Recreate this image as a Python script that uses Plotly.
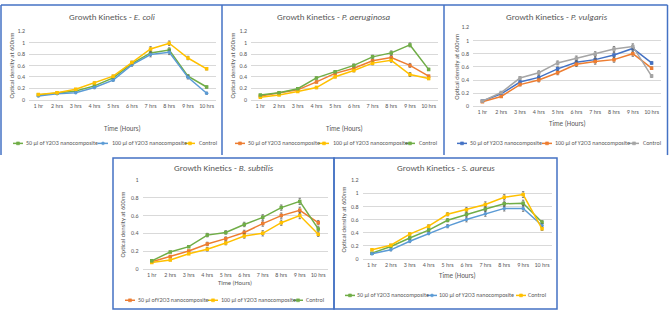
import plotly.graph_objects as go

W, H = 669, 315

hours = ["1 hr", "2 hrs", "3 hrs", "4 hrs", "5 hrs", "6 hrs", "7 hrs", "8 hrs", "9 hrs", "10 hrs"]
y_ticks_12 = [0, 0.2, 0.4, 0.6, 0.8, 1, 1.2]
y_ticks_10 = [0, 0.2, 0.4, 0.6, 0.8, 1]

name50 = "50 µl of Y2O3 nanocomposite"
name50b = "50 µl ofY2O3 nanocomposite"
name100 = "100 µl of Y2O3 nanocomposite"
nameC = "Control"

# E. coli
ecoli_50 = [0.08, 0.11, 0.15, 0.24, 0.38, 0.63, 0.82, 0.87, 0.41, 0.22]
ecoli_100 = [0.06, 0.10, 0.12, 0.21, 0.34, 0.61, 0.79, 0.83, 0.39, 0.11]
ecoli_ctrl = [0.09, 0.12, 0.18, 0.29, 0.41, 0.65, 0.89, 0.99, 0.73, 0.54]
ecoli_err = [0.01, 0.01, 0.015, 0.02, 0.02, 0.025, 0.04, 0.04, 0.03, 0.02]

# P. aeruginosa
paer_50 = [0.06, 0.11, 0.17, 0.31, 0.46, 0.55, 0.68, 0.74, 0.60, 0.41]
paer_100 = [0.04, 0.08, 0.14, 0.21, 0.40, 0.51, 0.64, 0.69, 0.44, 0.37]
paer_ctrl = [0.08, 0.12, 0.19, 0.38, 0.49, 0.60, 0.75, 0.82, 0.96, 0.53]
paer_err = [0.01, 0.01, 0.015, 0.02, 0.02, 0.025, 0.03, 0.035, 0.035, 0.02]

# P. vulgaris
pvul_50 = [0.08, 0.19, 0.37, 0.44, 0.57, 0.67, 0.71, 0.78, 0.88, 0.66]
pvul_100 = [0.07, 0.15, 0.33, 0.40, 0.51, 0.64, 0.68, 0.71, 0.80, 0.58]
pvul_ctrl = [0.08, 0.21, 0.43, 0.51, 0.66, 0.73, 0.79, 0.87, 0.91, 0.46]
pvul_err = [0.01, 0.015, 0.02, 0.03, 0.03, 0.035, 0.04, 0.04, 0.04, 0.02]

# B. subtilis
bsub_50 = [0.08, 0.14, 0.20, 0.28, 0.34, 0.41, 0.51, 0.60, 0.66, 0.52]
bsub_100 = [0.07, 0.10, 0.17, 0.22, 0.29, 0.37, 0.40, 0.52, 0.60, 0.39]
bsub_ctrl = [0.09, 0.19, 0.25, 0.38, 0.41, 0.50, 0.58, 0.69, 0.76, 0.45]
bsub_err = [0.01, 0.01, 0.01, 0.02, 0.02, 0.025, 0.03, 0.03, 0.035, 0.025]

# S. aureus
saur_50 = [0.09, 0.19, 0.32, 0.44, 0.59, 0.68, 0.76, 0.84, 0.85, 0.56]
saur_100 = [0.08, 0.14, 0.27, 0.39, 0.50, 0.60, 0.69, 0.77, 0.77, 0.51]
saur_ctrl = [0.14, 0.21, 0.38, 0.50, 0.68, 0.75, 0.83, 0.94, 0.98, 0.46]
saur_err = [0.01, 0.015, 0.02, 0.02, 0.025, 0.035, 0.04, 0.04, 0.045, 0.025]

GREEN = "#70AD47"
BLUE = "#5B9BD5"
DBLUE = "#4472C4"
GOLD = "#FFC000"
ORANGE = "#ED7D31"
GREY = "#A5A5A5"

FONT = "Carlito, Liberation Sans, Arial, sans-serif"
TXT = "#595959"


def px(x):
    return x / W


def py(y):
    return 1 - y / H


panels = [
    dict(title="Growth Kinetics - <i>E. coli</i>", xr=(29, 216), yr=(28, 98), ymax=1.2, ticks=y_ticks_12,
         series=[(name50, ecoli_50, GREEN, "square"), (name100, ecoli_100, BLUE, "circle"), (nameC, ecoli_ctrl, GOLD, "square")],
         err=ecoli_err, title_xy=(112, 13), xt_y=128, xt_size=7, yt_x=12, leg_y=143,
         leg_x=[(13, 24), (98, 110), (185, 197)]),
    dict(title="Growth Kinetics - <i>P. aeruginosa</i>", xr=(251, 438), yr=(28, 98), ymax=1.2, ticks=y_ticks_12,
         series=[(name50, paer_50, ORANGE, "square"), (name100, paer_100, GOLD, "square"), (nameC, paer_ctrl, GREEN, "square")],
         err=paer_err, title_xy=(334, 13), xt_y=128, xt_size=7, yt_x=233, leg_y=143,
         leg_x=[(235, 246), (319, 331), (405, 417)]),
    dict(title="Growth Kinetics - <i>P. vulgaris</i>", xr=(473, 661), yr=(24, 105), ymax=1.2, ticks=y_ticks_12,
         series=[(name50, pvul_50, DBLUE, "square"), (name100, pvul_100, ORANGE, "square"), (nameC, pvul_ctrl, GREY, "square")],
         err=pvul_err, title_xy=(557, 13), xt_y=122.5, xt_size=7, yt_x=457, leg_y=143,
         leg_x=[(457, 468), (542, 553), (629, 641)]),
    dict(title="Growth Kinetics - <i>B. subtilis</i>", xr=(142.5, 327.5), yr=(180.7, 271.7), ymax=1.0, ticks=y_ticks_10,
         series=[(name50b, bsub_50, ORANGE, "square"), (name100, bsub_100, GOLD, "square"), (nameC, bsub_ctrl, GREEN, "square")],
         err=bsub_err, title_xy=(224, 168), xt_y=286.5, xt_size=6.5, yt_x=123, leg_y=304,
         leg_x=[(125, 136), (208, 219), (293, 304)]),
    dict(title="Growth Kinetics - <i>S. aureus</i>", xr=(362.5, 551.5), yr=(180.7, 261.7), ymax=1.2, ticks=y_ticks_12,
         series=[(name50, saur_50, GREEN, "square"), (name100, saur_100, BLUE, "circle"), (nameC, saur_ctrl, GOLD, "square")],
         err=saur_err, title_xy=(446, 168), xt_y=278.5, xt_size=7, yt_x=344, leg_y=299,
         leg_x=[(345, 355), (427, 437), (516, 526)]),
]

fig = go.Figure()
annotations = []
shapes = []

for i, p in enumerate(panels):
    k = "" if i == 0 else str(i + 1)
    xa, ya = "x" + k, "y" + k
    for (nm, vals, col, sym) in p["series"]:
        fig.add_trace(go.Scatter(
            x=hours, y=vals, name=nm, mode="lines+markers", xaxis=xa, yaxis=ya,
            line=dict(color=col, width=1.5), marker=dict(color=col, size=3.5, symbol=sym),
            error_y=dict(type="data", array=p["err"], color="#595959", thickness=0.7, width=1.2),
            showlegend=False,
        ))
    fig.layout["xaxis" + k] = dict(
        domain=[px(p["xr"][0]), px(p["xr"][1])], anchor=ya, type="category",
        range=[-0.5, 9.5], showgrid=False, showline=True, linecolor="#D9D9D9", linewidth=0.8,
        ticks="", tickfont=dict(size=6, color=TXT, family=FONT), fixedrange=True,
    )
    fig.layout["yaxis" + k] = dict(
        domain=[py(p["yr"][1]), py(p["yr"][0])], anchor=xa, range=[0, p["ymax"]],
        tickvals=p["ticks"], showgrid=True, gridcolor="#D9D9D9", gridwidth=0.8,
        zeroline=False, showline=False, ticks="", ticklabelstandoff=3,
        tickfont=dict(size=6, color=TXT, family=FONT), fixedrange=True,
    )
    tx, ty = p["title_xy"]
    annotations.append(dict(text=p["title"], x=px(tx), y=py(ty), xref="paper", yref="paper",
                            xanchor="center", yanchor="middle",
                            showarrow=False, font=dict(size=9, color=TXT, family=FONT)))
    annotations.append(dict(text="Time (Hours)", x=px((p["xr"][0] + p["xr"][1]) / 2), y=py(p["xt_y"]),
                            xref="paper", yref="paper", showarrow=False, xanchor="center", yanchor="middle",
                            font=dict(size=p["xt_size"], color=TXT, family=FONT)))
    annotations.append(dict(text="Optical density at 600nm", x=px(p["yt_x"]), y=py((p["yr"][0] + p["yr"][1]) / 2),
                            xref="paper", yref="paper", showarrow=False, textangle=-90,
                            xanchor="center", yanchor="middle",
                            font=dict(size=6.5, color=TXT, family=FONT)))
    # legend keys
    for (nm, vals, col, sym), (lx, tx0) in zip(p["series"], p["leg_x"]):
        ly = p["leg_y"]
        shapes.append(dict(type="line", xref="paper", yref="paper", x0=px(lx), x1=px(lx + 10),
                           y0=py(ly), y1=py(ly), line=dict(color=col, width=1.5)))
        stype = "circle" if sym == "circle" else "rect"
        shapes.append(dict(type=stype, xref="paper", yref="paper", x0=px(lx + 3.5), x1=px(lx + 6.5),
                           y0=py(ly + 1.5), y1=py(ly - 1.5), line=dict(color=col, width=0.5), fillcolor=col))
        annotations.append(dict(text=nm, x=px(tx0), y=py(ly), xref="paper", yref="paper",
                                xanchor="left", yanchor="middle",
                                showarrow=False, font=dict(size=6, color=TXT, family=FONT)))

BORDER = "#4472C4"
# top row frame (open at the bottom)
top_lines = [(1, 1, 667.5, 1), (1, 1, 1, 155), (222, 1, 222, 155), (444, 1, 444, 155), (667.5, 1, 667.5, 155)]
for (x0, y0, x1, y1) in top_lines:
    shapes.append(dict(type="line", xref="paper", yref="paper", x0=px(x0), x1=px(x1), y0=py(y0), y1=py(y1),
                       line=dict(color=BORDER, width=1.5)))
for (x0, y0, x1, y1) in [(113, 158, 334, 313), (334, 158, 557, 313)]:
    shapes.append(dict(type="rect", xref="paper", yref="paper", x0=px(x0), x1=px(x1), y0=py(y1), y1=py(y0),
                       line=dict(color=BORDER, width=1.5), fillcolor="rgba(0,0,0,0)"))

fig.update_layout(
    width=W, height=H, margin=dict(l=0, r=0, t=0, b=0),
    paper_bgcolor="white", plot_bgcolor="white",
    annotations=annotations, shapes=shapes, showlegend=False,
)

fig.write_html("out.html")
